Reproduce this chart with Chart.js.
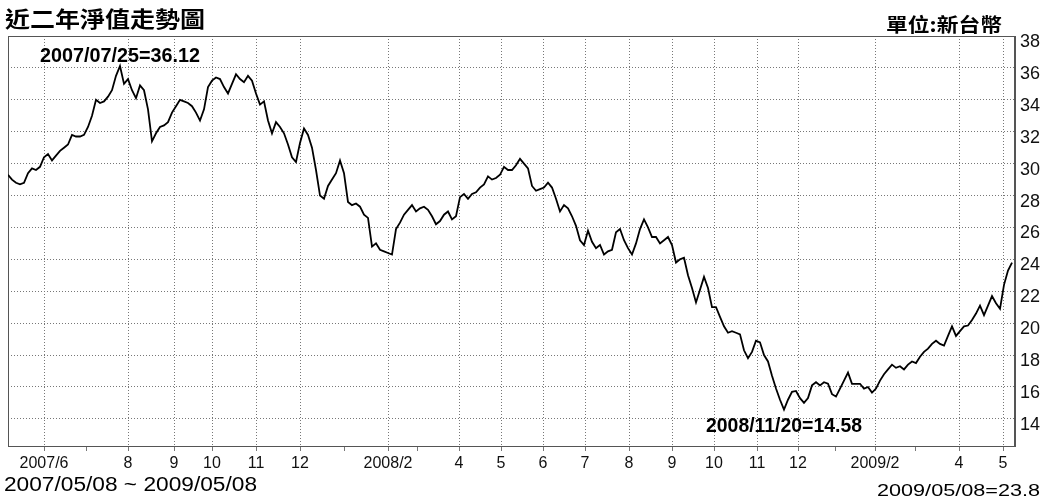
<!DOCTYPE html>
<html><head><meta charset="utf-8">
<script src="https://cdn.jsdelivr.net/npm/chart.js@4/dist/chart.umd.min.js"></script>
<style>html,body{margin:0;padding:0;background:#fff}canvas{display:block}</style>
</head><body>
<canvas id="c" width="1048" height="498"></canvas>
<script>
// NAV series, one reading every ~2 trading days (2007/05/08 .. 2009/05/08)
const navValues = [
29.3,29.0,28.8,28.7,28.8,29.4,29.7,29.6,29.8,30.4,
30.6,30.2,30.5,30.8,31.0,31.2,31.8,31.7,31.7,31.8,
32.3,33.0,34.0,33.8,33.9,34.2,34.6,35.5,36.12,35.0,
35.3,34.6,34.1,34.9,34.6,33.4,31.4,31.9,32.3,32.4,
32.6,33.2,33.6,34.0,33.9,33.8,33.6,33.2,32.7,33.4,
34.8,35.2,35.4,35.3,34.8,34.4,35.0,35.6,35.3,35.1,
35.5,35.2,34.4,33.7,33.9,32.7,31.9,32.6,32.3,31.9,
31.2,30.4,30.1,31.3,32.2,31.8,31.0,29.6,28.0,27.8,
28.6,29.0,29.4,30.2,29.4,27.6,27.4,27.5,27.3,26.8,
26.6,24.8,25.0,24.6,24.5,24.4,24.3,25.9,26.3,26.8,
27.1,27.4,27.0,27.2,27.3,27.1,26.7,26.2,26.4,26.8,
27.0,26.5,26.7,27.9,28.1,27.8,28.1,28.2,28.5,28.7,
29.2,29.0,29.1,29.3,29.8,29.6,29.6,29.9,30.3,30.0,
29.7,28.6,28.3,28.4,28.5,28.8,28.5,27.8,27.0,27.4,
27.2,26.7,26.1,25.2,24.9,25.8,25.1,24.7,24.9,24.3,
24.5,24.6,25.7,25.9,25.2,24.7,24.3,25.0,25.9,26.5,
26.0,25.4,25.4,25.0,25.2,25.4,24.9,23.8,24.0,24.1,
23.0,22.2,21.3,22.1,22.9,22.2,21.0,21.0,20.4,19.8,
19.4,19.5,19.4,19.3,18.3,17.8,18.2,18.9,18.8,18.0,
17.6,16.7,15.9,15.2,14.58,15.2,15.7,15.75,15.3,15.0,
15.3,16.1,16.3,16.1,16.3,16.2,15.55,15.4,15.9,16.4,
16.9,16.2,16.2,16.2,15.9,16.0,15.65,15.9,16.4,16.8,
17.1,17.4,17.2,17.3,17.1,17.4,17.6,17.5,17.9,18.2,
18.4,18.7,18.9,18.7,18.6,19.2,19.8,19.2,19.5,19.8,
19.85,20.2,20.6,21.1,20.5,21.1,21.7,21.25,20.9,22.4,
23.3,23.8
];
// month boundaries, in the same sample units
const monthTickPos = [9,19.5,30,41.5,51,62,73,84,95,102.25,112.75,123.25,133.75,144.25,155.25,166,176.5,187.25,197.5,206.75,216.75,226.75,237.75,248.75];
const monthTickLabels = ['2007/6','','8','9','10','11','12','','2008/2','','4','5','6','7','8','9','10','11','12','','2009/2','','4','5'];
const yTickValues = [14,16,18,20,22,24,26,28,30,32,34,36,38];
const yMin = 12.3, yMax = 38;
const chartTitle = '近二年淨值走勢圖';
const unitLabel = '單位:新台幣';
const rangeLabel = '2007/05/08 ~ 2009/05/08';
const lastLabel = '2009/05/08=23.8';
const maxLabel = '2007/07/25=36.12';
const minLabel = '2008/11/20=14.58';

const points = navValues.map((v, i) => ({x: i, y: v}));
const maxIdx = navValues.indexOf(Math.max(...navValues));
const minIdx = navValues.indexOf(Math.min(...navValues));

function drawFit(ctx, text, x, y, font, width, align) {
  ctx.save();
  ctx.font = font;
  const w = ctx.measureText(text).width;
  const s = width / w;
  ctx.translate(x, y);
  ctx.scale(s, 1);
  ctx.textAlign = align;
  ctx.textBaseline = 'alphabetic';
  ctx.fillStyle = '#000';
  ctx.fillText(text, 0, 0);
  ctx.restore();
}

const framePlugin = {
  id: 'frame',
  beforeDatasetsDraw(chart) {
    const {ctx, chartArea: a} = chart;
    ctx.save();
    ctx.strokeStyle = '#555';
    ctx.lineWidth = 1;
    ctx.setLineDash([]);
    ctx.strokeRect(Math.round(a.left) + 0.5, Math.round(a.top) + 0.5, Math.round(a.right - a.left) - 1, Math.round(a.bottom - a.top));
    ctx.restore();
  },
  afterDraw(chart) {
    const {ctx, scales} = chart;
    const xs = scales.x, ys = scales.y;
    drawFit(ctx, chartTitle, 5, 27, 'bold 22px "Noto Sans CJK TC"', 200, 'left');
    drawFit(ctx, unitLabel, 886, 32, 'bold 19px "Noto Sans CJK TC"', 116, 'left');
    drawFit(ctx, maxLabel, xs.getPixelForValue(maxIdx), ys.getPixelForValue(navValues[maxIdx]) - 4, 'bold 21px "Liberation Sans"', 160, 'center');
    drawFit(ctx, minLabel, xs.getPixelForValue(minIdx), ys.getPixelForValue(navValues[minIdx]) + 22, 'bold 21px "Liberation Sans"', 156, 'center');
    drawFit(ctx, rangeLabel, 4, 491, '20px "Liberation Sans"', 253, 'left');
    drawFit(ctx, lastLabel, 1040, 496, '17px "Liberation Sans"', 163, 'right');
  }
};

new Chart(document.getElementById('c'), {
  type: 'line',
  data: {
    datasets: [{
      data: points,
      borderColor: '#000',
      borderWidth: 1.8,
      pointRadius: 0,
      tension: 0,
      fill: false
    }]
  },
  options: {
    responsive: false,
    animation: false,
    devicePixelRatio: 1,
    layout: {padding: {left: 8, top: 36, right: 0, bottom: 0}},
    plugins: {legend: {display: false}, tooltip: {enabled: false}},
    scales: {
      x: {
        type: 'linear',
        min: 0,
        max: 251.75,
        afterBuildTicks: s => { s.ticks = monthTickPos.map(v => ({value: v})); },
        afterFit: s => { s.height = 52; },
        ticks: {
          autoSkip: false,
          maxRotation: 0,
          padding: 3,
          color: '#111',
          font: {family: '"Liberation Sans", Arial', size: 16},
          callback: (v, i) => monthTickLabels[i]
        },
        grid: {
          color: c => (c.index !== undefined && monthTickLabels[c.index]) ? '#777' : 'rgba(0,0,0,0)',
          lineWidth: 1,
          tickLength: 5,
          tickColor: '#777',
          tickBorderDash: [],
          borderDash: [1, 2]
        },
        border: {display: true, color: '#555', dash: [1, 2]}
      },
      y: {
        position: 'right',
        min: yMin,
        max: yMax,
        afterBuildTicks: s => { s.ticks = yTickValues.map(v => ({value: v})); },
        afterFit: s => { s.width = 33; },
        ticks: {
          padding: 5,
          labelOffset: 6,
          color: '#111',
          font: {family: '"Liberation Sans", Arial', size: 18},
          callback: v => String(v)
        },
        grid: {
          color: '#777',
          lineWidth: 1,
          drawTicks: false,
          borderDash: [1, 2]
        },
        border: {display: true, color: '#555', dash: [1, 2]}
      }
    }
  },
  plugins: [framePlugin]
});
</script>
</body></html>
